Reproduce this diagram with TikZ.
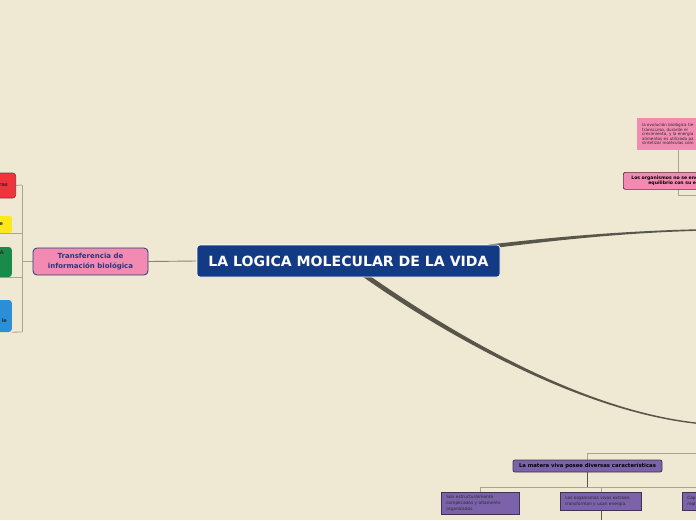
\documentclass[tikz,border=0pt]{standalone}
\usepackage{fontspec}
\setmainfont{DejaVu Sans}
\usetikzlibrary{calc}
\definecolor{bgc}{HTML}{EFE9D3}
\definecolor{mainblue}{HTML}{133A84}
\definecolor{transtext}{HTML}{243A7A}
\definecolor{pinkc}{HTML}{F38AB2}
\definecolor{pinkb}{HTML}{4A3040}
\definecolor{purc}{HTML}{7B62AA}
\definecolor{purb}{HTML}{3E3452}
\definecolor{redc}{HTML}{F0343C}
\definecolor{redb}{HTML}{8A3040}
\definecolor{yelc}{HTML}{FFE81A}
\definecolor{grnc}{HTML}{1A8A4A}
\definecolor{bluc}{HTML}{2A8FD6}
\definecolor{linegray}{HTML}{ABA393}
\definecolor{linedark}{HTML}{5A564A}
\definecolor{curvec}{HTML}{58554A}
\definecolor{darktext}{HTML}{2A2A2A}
\pgfdeclarelayer{bgfill}
\pgfdeclarelayer{background}
\pgfsetlayers{bgfill,background,main}
\tikzset{
  mainbox/.style={fill=mainblue, draw=white, line width=0.7pt, rounded corners=3pt,
    minimum width=303pt, minimum height=32pt, inner sep=0pt, text=white,
    font=\fontsize{14.1}{16}\selectfont\bfseries},
  transbox/.style={fill=pinkc, draw=transtext, line width=0.8pt, rounded corners=4pt,
    minimum width=115pt, minimum height=27pt, inner sep=0pt, text=transtext, align=center,
    font=\fontsize{7}{9.3}\selectfont\bfseries},
  leftbox/.style={rounded corners=3pt, anchor=east, text width=30pt, align=right,
    inner ysep=0pt, text=darktext, font=\fontsize{5}{6}\selectfont\bfseries},
  smallpink/.style={fill=pinkc, anchor=north west, minimum width=90pt, minimum height=32pt,
    text width=80pt, inner xsep=3.5pt, inner ysep=0pt, align=left, text=darktext,
    font=\fontsize{4.1}{4.5}\selectfont},
  pinkhead/.style={fill=pinkc, draw=pinkb, line width=0.7pt, rounded corners=2pt,
    anchor=north west, minimum width=100pt, minimum height=17pt, text width=84pt,
    inner xsep=8pt, inner ysep=0pt, align=left, text=black,
    font=\fontsize{4.6}{5.2}\selectfont\bfseries},
  purhead/.style={fill=purc, draw=purb, line width=0.8pt, rounded corners=2pt,
    minimum width=149pt, minimum height=12pt, inner sep=0pt, text=black,
    font=\fontsize{5.3}{6}\selectfont\bfseries},
  purbox/.style={fill=purc, draw=purb, line width=0.7pt, anchor=north west,
    inner xsep=5pt, inner ysep=0pt, align=left, text=darktext,
    font=\fontsize{4.3}{5.9}\selectfont},
  gline/.style={draw=linegray, line width=0.8pt},
  dline/.style={draw=linedark, line width=0.8pt},
}
\begin{document}
\begin{tikzpicture}[x=1pt,y=-1pt]
\useasboundingbox (0,0) rectangle (696,520);
\clip (0,0) rectangle (696,520);
\begin{pgfonlayer}{bgfill}
\fill[bgc] (0,0) rectangle (696,520);
\end{pgfonlayer}

% main node
\node[mainbox] (main) at (348.5,261) {LA LOGICA MOLECULAR DE LA VIDA};

% left branch
\node[transbox] (trans) at (90.5,261.5) {Transferencia de\\información biológica};
\node[leftbox, fill=redc, draw=redb, line width=0.7pt, minimum height=25pt, inner xsep=7.7pt] (red) at (16,185.5) {ras};
\node[leftbox, fill=yelc, rounded corners=2pt, minimum height=17pt, inner xsep=8.7pt] (yel) at (12,224.5) {e};
\node[leftbox, fill=grnc, minimum height=30pt, inner xsep=8pt, text height=5pt, text depth=19.4pt] (grn) at (12,262) {A};
\node[leftbox, fill=bluc, minimum height=32pt, inner xsep=5pt, text height=14pt, text depth=2pt] (blu) at (12,316) {le};

\coordinate (lb) at (22,261.5);
\coordinate (lbtop) at (22,185);
\coordinate (lbbot) at (22,332);
\coordinate (yl) at (0,233);
\coordinate (gl) at (0,277);

% top right
\node[smallpink] (evo) at (637,118) {la evolución biológica tie\\transcurso, durante el\\crecimiento, y la energía\\alimentos es utilizada pa\\sintetizar moléculas com};
\node[pinkhead] (org) at (623,172) {Los organismos no se enc\\\hspace*{17pt}equilibrio con su ent};
\coordinate (tb) at (678,195);
\coordinate (tbend) at (696,195);
\coordinate (ur) at (696,230);

% bottom right
\node[purhead] (mat) at (587.5,466) {La matera viva posee diversas características};
\node[purbox, minimum width=78pt, minimum height=22pt, text width=68pt] (b1) at (441,492) {Son estructuralmente\\complicados y altamente\\organizados.};
\node[purbox, minimum width=81pt, minimum height=18pt, text width=71pt] (b2) at (560,492) {Los organismos vivos extraen,\\transforman y usan energía.};
\node[purbox, minimum width=50pt, minimum height=18pt, text width=40pt] (b3) at (682,492) {Cap\\repl};
\coordinate (mtop) at (587,453);
\coordinate (mtopend) at (696,453);
\coordinate (mbus) at (587,487);
\coordinate (mbusl) at (480,487);
\coordinate (mbusr) at (696,487);
\coordinate (b2x) at (601,487);
\coordinate (b2down) at (601,520);
\coordinate (lr) at (696,423);

\begin{pgfonlayer}{background}
% main to left
\draw[draw=linegray!80!black, line width=0.9pt] (main.west) -- (trans.east);
\draw[gline] (trans.west) -- (lb);
\draw[gline] (lbtop) -- (lbbot);
\draw[gline] (red.east) -- (lbtop);
\draw[gline] (yl) -- (yl -| lb);
\draw[gline] (gl) -- (gl -| lb);
\draw[gline] (blu.south east) -- (lbbot);
% thick tapered curves
\fill[curvec] ($(main.north east)+(-12,4)$) .. controls (555,240.5) and (620,233) .. ($(ur)+(0,0.9)$)
  -- ($(ur)+(0,-0.7)$) .. controls (620,231.2) and (555,237) .. ($(main.north east)+(-12,0)$) -- cycle;
\fill[curvec] ($(main.south)+(14.5,-0.5)$) .. controls (447,336) and (580,411) .. ($(lr)+(0,0.8)$)
  -- ($(lr)+(0,-0.6)$) .. controls (580,409.5) and (452,333) .. ($(main.south)+(20.5,-2)$) -- cycle;
% top right bracket
\draw[gline] (evo.south west -| tb) -- (tb) -- (tbend);
% bottom right
\draw[gline] (mat.north -| mtop) -- (mtop) -- (mtopend);
\draw[dline] (mat.south -| mbus) -- (mbus);
\draw[gline] (mbusl) -- (mbusr);
\draw[gline] (mbusl) -- (b1.north -| mbusl);
\draw[gline] (b2x) -- (b2.north -| b2x);
\draw[dline] (b2.south -| b2down) -- (b2down);
\end{pgfonlayer}
\end{tikzpicture}
\end{document}
